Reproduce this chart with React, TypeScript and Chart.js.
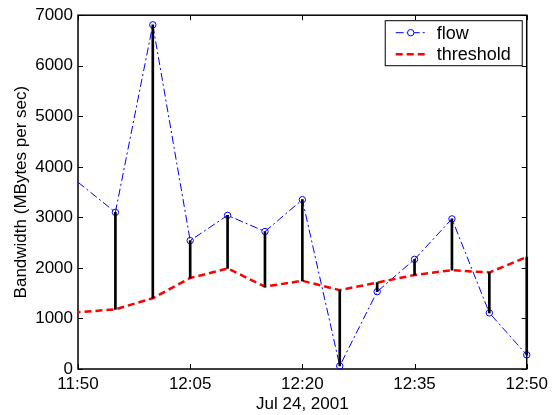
import React, { useEffect, useRef } from "react";
import { Chart, registerables } from "chart.js";

Chart.register(...registerables);

// ---- data ----
const times = ["11:45", "11:55", "12:00", "12:05", "12:10", "12:15", "12:20", "12:25", "12:30", "12:35", "12:40", "12:45", "12:50"];
const flow = [4290, 3100, 6810, 2540, 3040, 2720, 3350, 60, 1530, 2170, 2970, 1110, 280];
const threshold = [1065, 1180, 1400, 1800, 1990, 1630, 1745, 1560, 1710, 1860, 1955, 1910, 2215];
const xTickLabels = ["11:50", "12:05", "12:20", "12:35", "12:50"];
const yTickValues = [0, 1000, 2000, 3000, 4000, 5000, 6000, 7000];
const seriesLabels = ["flow", "threshold"];
const xTitle = "Jul 24, 2001";
const yTitle = "Bandwidth (MBytes per sec)";

const FONT = "'Liberation Sans', Arial, Helvetica, sans-serif";

const toMin = (s: string) => {
  const [h, m] = s.split(":").map(Number);
  return h * 60 + m;
};
const fmt = (v: number) => {
  const h = Math.floor(v / 60);
  const m = Math.round(v - h * 60);
  return `${h}:${m < 10 ? "0" + m : m}`;
};

const xMin = toMin(xTickLabels[0]);
const xMax = toMin(xTickLabels[xTickLabels.length - 1]);

const framePlugin = {
  id: "frame",
  beforeDatasetsDraw(chart: any) {
    const { ctx, chartArea: a, scales } = chart;
    ctx.save();
    ctx.strokeStyle = "#000";
    ctx.lineWidth = 1.5;
    ctx.strokeRect(a.left, a.top, a.right - a.left, a.bottom - a.top);
    ctx.lineWidth = 1;
    const tl = 5;
    ctx.beginPath();
    for (const t of scales.x.ticks) {
      const x = Math.round(scales.x.getPixelForValue(t.value)) + 0.5;
      ctx.moveTo(x, a.bottom);
      ctx.lineTo(x, a.bottom - tl);
      ctx.moveTo(x, a.top);
      ctx.lineTo(x, a.top + tl);
    }
    for (const t of scales.y.ticks) {
      const y = Math.round(scales.y.getPixelForValue(t.value)) + 0.5;
      ctx.moveTo(a.left, y);
      ctx.lineTo(a.left + tl, y);
      ctx.moveTo(a.right, y);
      ctx.lineTo(a.right - tl, y);
    }
    ctx.stroke();
    ctx.restore();
  },
  afterDraw(chart: any) {
    const { ctx, chartArea: a } = chart;
    const bw = 137;
    const bh = 45;
    const bx = a.right - 5 - bw;
    const by = a.top + 5;
    ctx.save();
    ctx.fillStyle = "#fff";
    ctx.fillRect(bx, by, bw, bh);
    ctx.strokeStyle = "#000";
    ctx.lineWidth = 1;
    ctx.strokeRect(bx + 0.5, by + 0.5, bw, bh);

    const y1 = by + 12.5;
    const y2 = by + 34;
    const sx0 = bx + 11;
    const sx1 = bx + 41;
    // flow sample
    ctx.strokeStyle = "#0000ff";
    ctx.lineWidth = 1;
    ctx.setLineDash([8, 3, 2, 3]);
    ctx.beginPath();
    ctx.moveTo(sx0, y1);
    ctx.lineTo(sx1, y1);
    ctx.stroke();
    ctx.setLineDash([]);
    ctx.fillStyle = "#fff";
    ctx.beginPath();
    ctx.arc((sx0 + sx1) / 2, y1, 3.2, 0, Math.PI * 2);
    ctx.fill();
    ctx.stroke();
    // threshold sample
    ctx.strokeStyle = "#ff0000";
    ctx.lineWidth = 2.5;
    ctx.setLineDash([7, 4]);
    ctx.beginPath();
    ctx.moveTo(sx0, y2);
    ctx.lineTo(sx1, y2);
    ctx.stroke();
    ctx.setLineDash([]);

    ctx.fillStyle = "#000";
    ctx.font = `18px ${FONT}`;
    ctx.textBaseline = "middle";
    ctx.textAlign = "left";
    ctx.fillText(seriesLabels[0], bx + 52, y1 + 1);
    ctx.fillText(seriesLabels[1], bx + 52, y2 + 1);
    ctx.restore();
  },
};

export default function App() {
  const ref = useRef<HTMLCanvasElement | null>(null);

  useEffect(() => {
    document.body.style.margin = "0";
    const canvas = ref.current!;
    const xs = times.map(toMin);
    const chart = new Chart(canvas, {
      type: "line",
      data: {
        datasets: [
          {
            type: "bar",
            label: "stems",
            data: xs.map((x, i) => ({ x, y: [threshold[i], flow[i]] })),
            backgroundColor: "#000",
            borderWidth: 0,
            barThickness: 2,
            order: 0,
            clip: { left: 0, right: 3, top: 0, bottom: 0 },
          } as any,
          {
            type: "line",
            label: seriesLabels[1],
            data: xs.map((x, i) => ({ x, y: threshold[i] })),
            borderColor: "#ff0000",
            borderWidth: 2.5,
            borderDash: [7, 4],
            pointRadius: 0,
            fill: false,
            tension: 0,
            order: 1,
            clip: { left: 0, right: 3, top: 0, bottom: 3 },
          },
          {
            type: "line",
            label: seriesLabels[0],
            data: xs.map((x, i) => ({ x, y: flow[i] })),
            borderColor: "#0000ff",
            borderWidth: 1,
            borderDash: [8, 3, 2, 3],
            pointRadius: 3.2,
            pointBorderWidth: 1,
            pointBorderColor: "#0000ff",
            pointBackgroundColor: "rgba(0,0,0,0)",
            fill: false,
            tension: 0,
            order: 2,
            clip: { left: 0, right: 6, top: 0, bottom: 6 },
          },
        ],
      },
      options: {
        responsive: false,
        animation: false,
        devicePixelRatio: 1,
        layout: { padding: { left: 0, right: 22, top: 12, bottom: 0 } },
        plugins: { legend: { display: false }, tooltip: { enabled: false } },
        scales: {
          x: {
            type: "linear",
            min: xMin,
            max: xMax,
            offset: false,
            grid: { display: false, drawTicks: false, tickLength: 0 },
            border: { display: false },
            afterBuildTicks: (s: any) => {
              s.ticks = xTickLabels.map((l) => ({ value: toMin(l) }));
            },
            afterFit: (s: any) => {
              s.height = 46;
            },
            ticks: {
              color: "#000",
              font: { family: FONT, size: 17 },
              padding: 5,
              maxRotation: 0,
              autoSkip: false,
              callback: (v: any) => fmt(Number(v)),
            },
            title: {
              display: true,
              text: xTitle,
              color: "#000",
              font: { family: FONT, size: 17 },
              padding: { top: 0, bottom: 0 },
            },
          },
          y: {
            type: "linear",
            min: 0,
            max: 7000,
            grid: { display: false, drawTicks: false, tickLength: 0 },
            border: { display: false },
            afterBuildTicks: (s: any) => {
              s.ticks = yTickValues.map((v) => ({ value: v }));
            },
            afterFit: (s: any) => {
              s.width = 78;
            },
            ticks: {
              color: "#000",
              font: { family: FONT, size: 17 },
              padding: 5,
              autoSkip: false,
              callback: (v: any) => String(v),
            },
            title: {
              display: true,
              text: yTitle,
              color: "#000",
              font: { family: FONT, size: 17 },
              padding: { top: 11, bottom: 0 },
            },
          },
        },
      },
      plugins: [framePlugin],
    } as any);
    return () => chart.destroy();
  }, []);

  return (
    <div style={{ width: 553, height: 415 }}>
      <canvas ref={ref} width={553} height={415} style={{ display: "block" }} />
    </div>
  );
}
